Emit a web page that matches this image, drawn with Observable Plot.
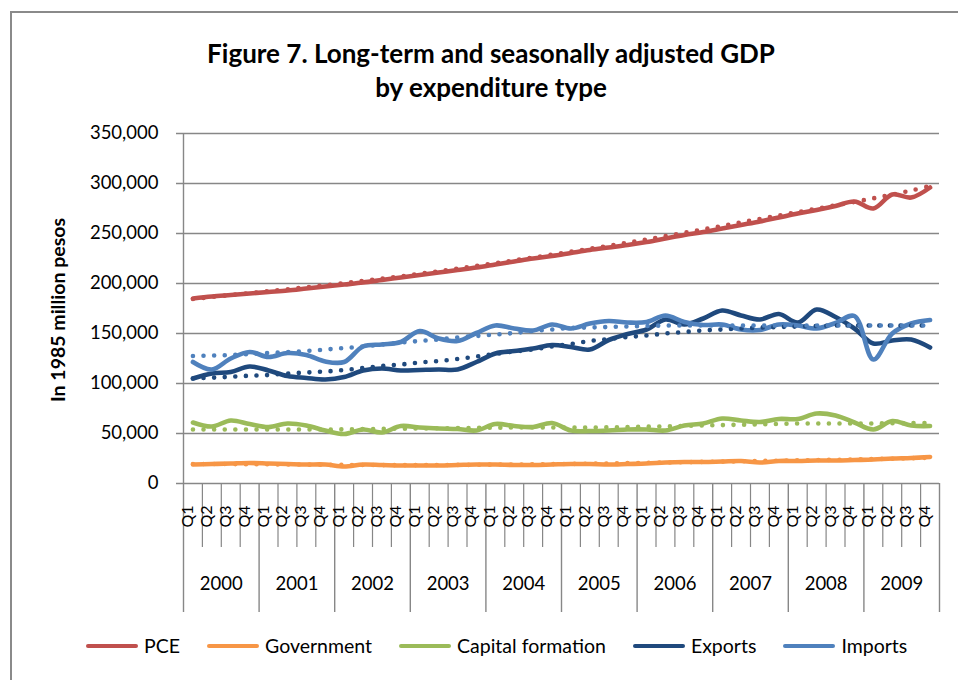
<!DOCTYPE html>
<html>
<head>
<meta charset="utf-8">
<script src="https://cdn.jsdelivr.net/npm/d3@7"></script>
<script src="https://cdn.jsdelivr.net/npm/@observablehq/plot@0.6"></script>
<style>
  body { margin: 0; background: #fff; font-family: Lato, "Open Sans", sans-serif; }
  #wrap { position: relative; width: 958px; height: 680px; overflow: hidden; background: #fff; }
  #border { position: absolute; left: 10px; top: 11px; width: 1000px; height: 1000px;
            border-left: 2px solid #8a8a8a; border-top: 2px solid #8a8a8a; }
  #title { position: absolute; left: 0; top: 36px; width: 982px; text-align: center;
           font-weight: bold; font-size: 26px; line-height: 34px; color: #000; }
  #ytitle { position: absolute; left: 57px; top: 310px; transform: translate(-50%, -50%) rotate(-90deg);
            white-space: nowrap; font-weight: bold; font-size: 19.5px; color: #000; }
  #chart { position: absolute; left: 0; top: 0; }
  #legend { position: absolute; left: 86px; top: 634px; display: flex; gap: 27px; font-size: 19.5px; color: #000; }
  .item { display: flex; align-items: center; gap: 6px; }
  .sw { width: 52px; height: 4px; border-radius: 2px; }
</style>
</head>
<body>
<div id="wrap">
  <div id="border"></div>
  <div id="title">Figure 7. Long-term and seasonally adjusted GDP<br>by expenditure type</div>
  <div id="ytitle">In 1985 million pesos</div>
  <div id="chart"></div>
  <div id="legend"></div>
</div>
<script>
// ---- data (values in thousands of 1985 million pesos) ----
const years = ["2000","2001","2002","2003","2004","2005","2006","2007","2008","2009"];
const quarterNames = ["Q1","Q2","Q3","Q4"];
const yTicks = [0, 50000, 100000, 150000, 200000, 250000, 300000, 350000];

const seriesNames = ["PCE", "Government", "Capital formation", "Exports", "Imports"];
const seriesColors = ["#C0504D", "#F79646", "#9BBB59", "#1F497D", "#4F81BD"];

// seasonally adjusted (solid)
const pce = [185,187,188.5,190, 191.5,193,195,197, 199,201,203.5,206, 208.5,211,213.5,216,
             219,222,225,227.5, 230.5,233.5,236,238.5, 241.5,245,248.5,251.5, 255,258.5,262,266,
             270,273.5,277.5,282, 275,289,286,296];
const gov = [19,19.5,20,20.5, 20,19.5,19,19, 17,19,18.5,18, 18,18,18.5,19,
             19,18.5,18.5,19, 19.5,19.5,19,19.5, 20,21,21.5,21.5, 22,22.5,21,22.5,
             22.5,23,23,23.5, 24,25,25.5,26.5];
const cap = [61,57,63,59.5, 56.5,60,58,53, 49.5,54,51,57.5, 56,55,54.5,53,
             59.5,57.5,56.5,60.5, 53,52.5,53,54, 54,53,58,60, 65,63,61.5,64.5,
             64.5,70,68,61, 54,62.5,58,57.5];
const exp = [105,110,111.5,117, 113,107.5,105.5,104, 106.5,113,115,113, 113.5,114,114,121.5,
             130,132.5,135,138.5, 136.5,134,143.5,149.5, 154,164,159,165, 173,168,164,169.5,
             161,174,166.5,155, 140,143,144,136];
const imp = [121.5,114,125,131.5, 126.5,130.5,128.5,122, 121.5,137,139,141.5, 152.5,145,142.5,150.5,
             158,155,153,159, 155,160,162.5,161, 161.5,168,161.5,158.5, 159,154,153.5,159,
             158,155,160.5,167.5, 124,150,160,163.5];

// long-term trend (dotted)
const pceTrend = [184.5,186.5,188.5,190.4, 192.3,194.2,196.2,198.2, 200.3,202.5,204.8,207.2, 209.7,212.2,214.8,217.5,
                  220.3,223.1,226,228.9, 231.8,234.7,237.7,240.8, 244,247.3,250.7,254.1, 257.6,261.1,264.6,268,
                  271.4,274.8,278.2,281.6, 285.2,289,293,297.5];
const govTrend = [19.5,19.5,19.4,19.3, 19.2,19,18.9,18.7, 18.6,18.5,18.4,18.4, 18.4,18.5,18.6,18.7,
                  18.9,19,19.2,19.4, 19.6,19.8,20.1,20.4, 20.7,21,21.3,21.6, 21.9,22.2,22.5,22.8,
                  23.1,23.4,23.7,24, 24.4,24.8,25.3,25.8];
const capTrend = [54,54,54,54, 54,54,54,54, 54.2,54.4,54.6,54.8, 55,55.2,55.4,55.6,
                  55.8,56,56,56, 56,56,56.2,56.4, 56.8,57.2,57.6,58, 58.4,58.8,59.2,59.6,
                  60,60,60,60, 60,60.2,60.4,60.6];
const expTrend = [105,105.8,106.7,107.8, 108.5,110,111,112, 113.5,115.5,117.5,119, 121,122.5,124.5,127,
                  129.5,132,134,137, 139.5,142.5,144.5,146.5, 148,150,151.5,153, 154,155,156,156.5,
                  157,157.5,158,158, 158,158,158,158];
const impTrend = [127.5,128,128.5,129.5, 130.5,131.5,132.5,134, 135.5,137,139,141, 142.5,144,146,147.5,
                  149,150.5,152.5,154, 155.5,156,156.5,157, 157.5,158,158,158, 158,158,158,158,
                  158,158,158,158, 158,158,158,158];

// ---- build tables ----
const solidSeries = [pce, gov, cap, exp, imp];
const trendSeries = [pceTrend, govTrend, capTrend, expTrend, impTrend];
const quarters = years.flatMap(y => quarterNames.map(q => ({year: y, q})));
const idx = quarters.map((d, i) => i);
const nQ = quarters.length;
const qBounds = d3.range(1, nQ).filter(i => i % 4 !== 0).map(i => i - 0.5);
const yBounds = d3.range(0, nQ + 1, 4).map(i => i - 0.5);
const yearCenters = years.map((y, k) => ({year: y, x: k * 4 + 1.5}));

const gray = "#878787";
const fmt = d3.format(",");

const lineMarks = [];
solidSeries.forEach((s, k) => {
  lineMarks.push(Plot.line(idx, {x: i => i, y: i => s[i] * 1000, stroke: seriesColors[k],
    strokeWidth: 4.6, curve: "catmull-rom", strokeLinejoin: "round", strokeLinecap: "round"}));
});
trendSeries.forEach((s, k) => {
  lineMarks.push(Plot.line(idx, {x: i => i, y: i => s[i] * 1000, stroke: seriesColors[k],
    strokeWidth: 4.6, curve: "catmull-rom", strokeLinecap: "round", strokeDasharray: "0 10.6"}));
});

const chart = Plot.plot({
  width: 958,
  height: 620,
  marginLeft: 183,
  marginRight: 19,
  marginTop: 133,
  marginBottom: 137,
  style: {fontFamily: "Lato, 'Open Sans', sans-serif", fontSize: "18px", color: "#000", background: "transparent", overflow: "visible"},
  x: {type: "linear", domain: [-0.5, nQ - 0.5], axis: null},
  y: {domain: [0, 350000], axis: null},
  marks: [
    Plot.ruleY(yTicks, {stroke: gray, strokeWidth: 1.4, insetLeft: -7}),
    Plot.ruleX([-0.5], {stroke: gray, strokeWidth: 1.4}),
    Plot.ruleX(qBounds, {y1: 0, y2: 0, insetBottom: -64, stroke: gray, strokeWidth: 1.2}),
    Plot.ruleX(yBounds, {y1: 0, y2: 0, insetBottom: -129, stroke: gray, strokeWidth: 1.4}),
    Plot.text(yTicks, {y: d => d, text: d => fmt(d), frameAnchor: "left", textAnchor: "end", dx: -25, fontSize: 18.5, fill: "#000"}),
    Plot.text(quarters, {x: (d, i) => i, text: d => d.q, frameAnchor: "bottom", rotate: -90, dy: 33, fontSize: 16, fill: "#000"}),
    Plot.text(yearCenters, {x: "x", text: "year", frameAnchor: "bottom", dy: 106, fontSize: 18.5, fill: "#000"}),
    ...lineMarks
  ]
});
document.getElementById("chart").appendChild(chart);

// legend
const legend = document.getElementById("legend");
seriesNames.forEach((n, k) => {
  const it = document.createElement("div");
  it.className = "item";
  it.innerHTML = `<span class="sw" style="background:${seriesColors[k]}"></span><span>${n}</span>`;
  legend.appendChild(it);
});
</script>
</body>
</html>
